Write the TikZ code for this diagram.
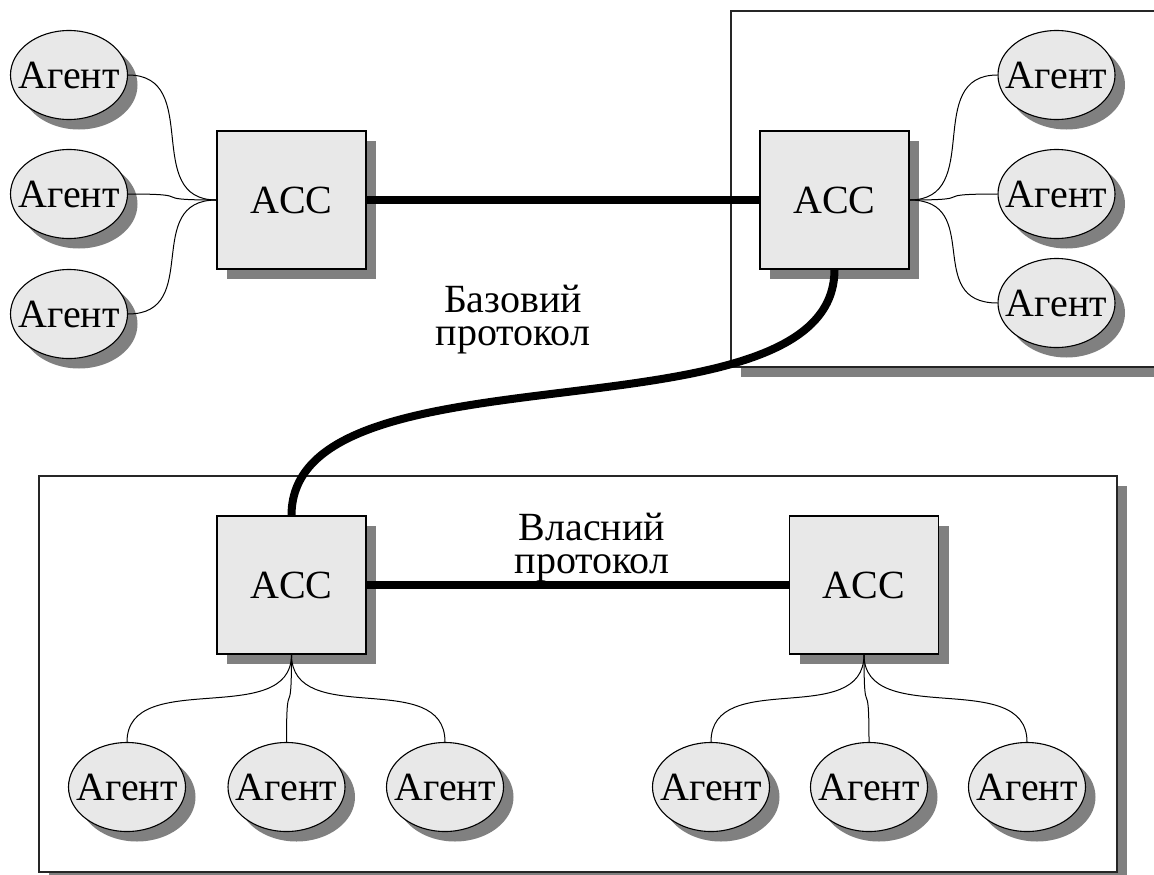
\documentclass[tikz,border=0pt]{standalone}
\usepackage{fontspec}
\setmainfont{Liberation Serif}
\usetikzlibrary{shapes.geometric,shadows}
\definecolor{boxfill}{gray}{0.91}
\definecolor{shadowgray}{gray}{0.5}
\newcommand\figfont{\fontsize{40}{33}\selectfont}
% two-line caption whose baseline is that of its first line
\newcommand\twolines[2]{\begin{tabular}[t]{@{}c@{}}#1\\#2\end{tabular}}
\tikzset{
  shade10/.style={drop shadow={shadow xshift=10pt, shadow yshift=-10pt, fill=shadowgray, opacity=1}},
  agent/.style={ellipse, draw, line width=1.1pt, fill=boxfill, minimum width=117pt,
    minimum height=89pt, inner sep=0pt, font=\figfont, shade10},
  acc/.style={rectangle, draw, line width=1.1pt, fill=boxfill, minimum width=149pt,
    minimum height=138pt, inner sep=0pt, font=\figfont, shade10},
  platform/.style={draw=black!85, line width=1.5pt, fill=white, shade10},
  link/.style={line width=1pt},
  proto/.style={line width=8pt},
  lbl/.style={font=\figfont, inner sep=0pt, anchor=base}
}
\newcommand\ag{\makebox[0pt]{Агент}}
\begin{document}
\begin{tikzpicture}[x=1pt, y=-1pt]
\useasboundingbox (0,0) rectangle (1154,875);
\begin{scope}
\clip (0,0) rectangle (1154,875);
\fill[white] (0,0) rectangle (1154,875);

% agent platforms
\path[platform] (731,11) rectangle (1220,367);
\path[platform] (39,476) rectangle (1117,872);

% top-left platform
\node[agent] (a1) at (69,75)  {\ag};
\node[agent] (a2) at (69,194) {\ag};
\node[agent] (a3) at (69,314) {\ag};
\node[acc]   (c1) at (291.5,200) {ACC};

% top-right platform
\node[acc]   (c2) at (834.5,200) {ACC};
\node[agent] (b1) at (1056.5,75)  {\ag};
\node[agent] (b2) at (1056.5,194) {\ag};
\node[agent] (b3) at (1056.5,303) {\ag};

% lower platform
\node[acc]   (c3) at (291.5,585) {ACC};
\node[acc]   (c4) at (864,585)   {ACC};
\node[agent] (d1) at (127,787)   {\ag};
\node[agent] (d2) at (286.5,787) {\ag};
\node[agent] (d3) at (445,787)   {\ag};
\node[agent] (e1) at (711,787)   {\ag};
\node[agent] (e2) at (869,787)   {\ag};
\node[agent] (e3) at (1027,787)  {\ag};

% agent attachments
\foreach \a in {a1,a2,a3}
  \draw[link] (\a.east) .. controls +(75,0) and +(-75,0) .. (c1.west);
\foreach \b in {b1,b2,b3}
  \draw[link] (c2.east) .. controls +(75,0) and +(-75,0) .. (\b.west);
\foreach \d in {d1,d2,d3}
  \draw[link] (c3.south) .. controls +(0,75) and +(0,-75) .. (\d.north);
\foreach \e in {e1,e2,e3}
  \draw[link] (c4.south) .. controls +(0,75) and +(0,-75) .. (\e.north);

% protocol links
\draw[proto] (c1.east) -- (c2.west);
\draw[proto] (c2.south) .. controls +(0,179) and +(0,-179) .. (c3.north);
\draw[proto] (c3.east) -- (c4.west);

% labels
\node[lbl] (basic) at (513,312) {\twolines{Базовий}{протокол}};
\node[lbl] (own)   at (592,540) {\twolines{Власний}{протокол}};
\end{scope}
\end{tikzpicture}
\end{document}
